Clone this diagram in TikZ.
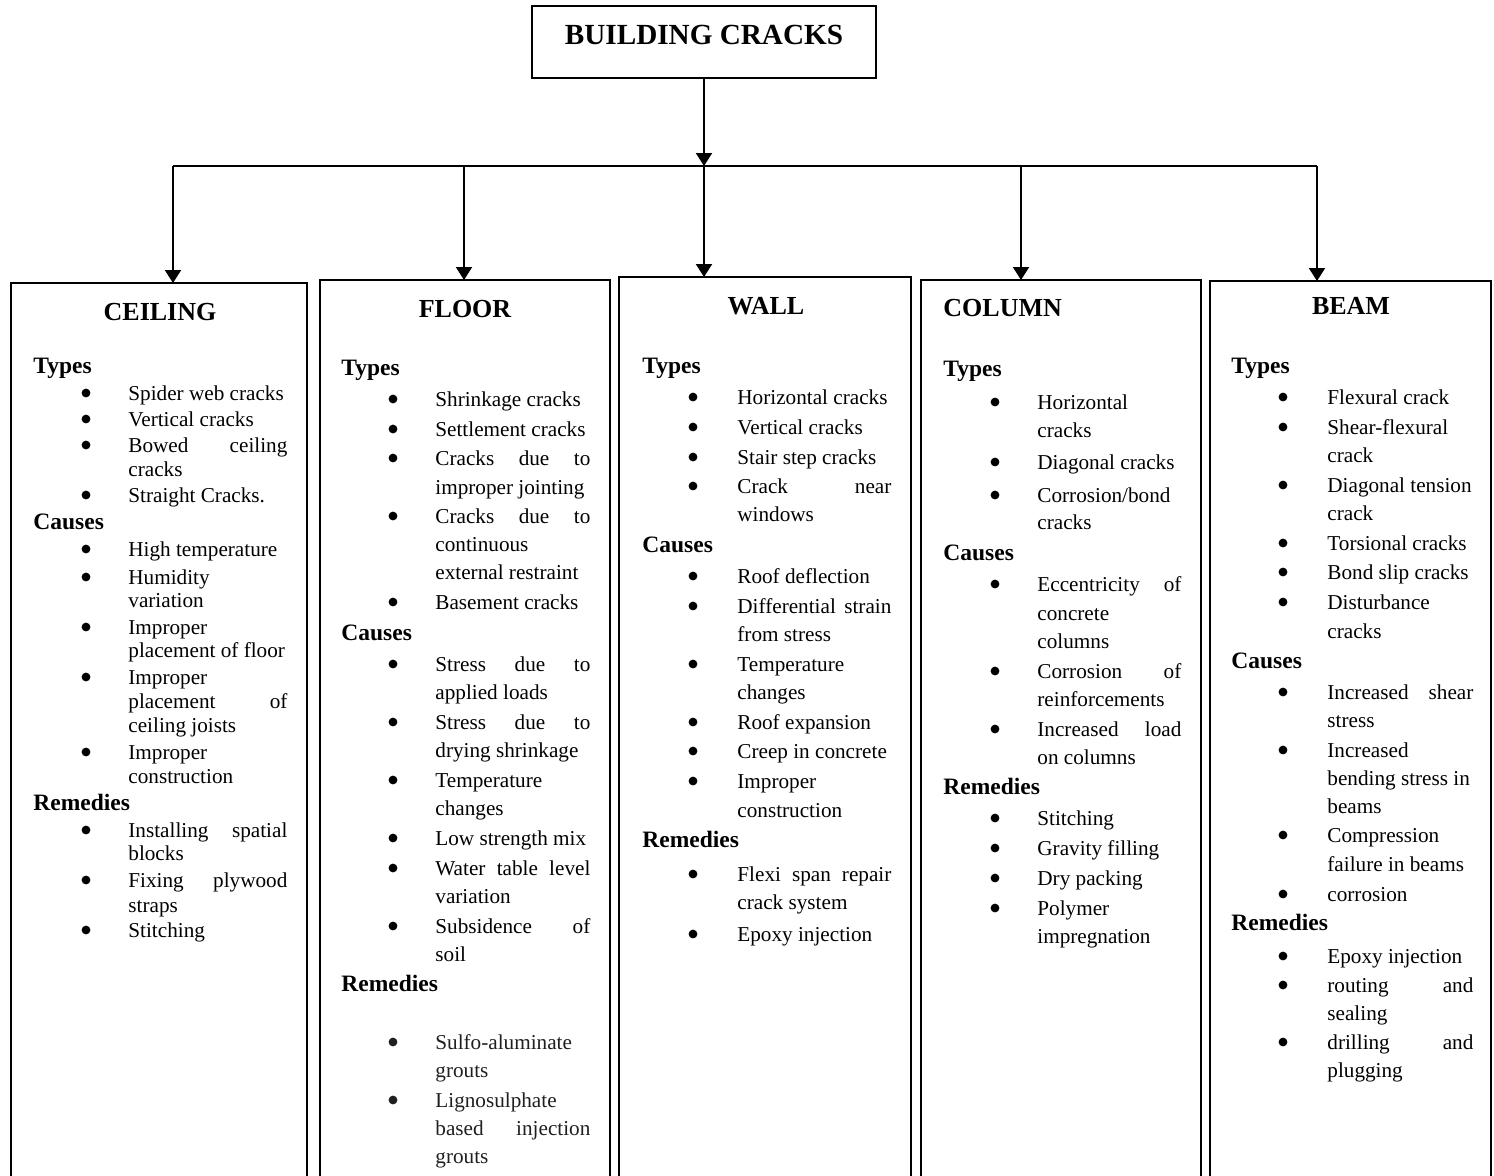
\documentclass[tikz,border=0pt]{standalone}
\usepackage{fontspec}
\setmainfont{Liberation Serif}
\usetikzlibrary{arrows.meta}
\newcounter{ln}
\newcommand\colset[4]{\def\hx{#1}\def\bx{#2}\def\tx{#3}\def\tw{#4}}
\newcommand\Hd[2]{\stepcounter{ln}\node[hd] (h\number\value{ln}) at (\hx,#1+7) {#2};}
\newcommand\Bi[2]{\stepcounter{ln}\node[bul] (b\number\value{ln}) at (\bx,#1) {};\node[txt] (t\number\value{ln}) at (\tx,#1+7) {#2};}
\newcommand\Bj[2]{\stepcounter{ln}\node[bul] (b\number\value{ln}) at (\bx,#1) {};\node[txt] (t\number\value{ln}) at (\tx,#1+7) {\makebox[\tw][s]{#2}};}
\newcommand\Ct[2]{\stepcounter{ln}\node[txt] (t\number\value{ln}) at (\tx,#1+7) {#2};}
\newcommand\Cj[2]{\stepcounter{ln}\node[txt] (t\number\value{ln}) at (\tx,#1+7) {\makebox[\tw][s]{#2}};}
\begin{document}
\begin{tikzpicture}[x=0.5pt,y=-0.5pt,
  txt/.style={anchor=base west,inner sep=0pt,font=\fontsize{10.6}{12}\selectfont},
  hd/.style={anchor=base west,inner sep=0pt,font=\fontsize{11.75}{14}\selectfont\bfseries},
  ttl/.style={anchor=base,inner sep=0pt,font=\fontsize{13}{15}\selectfont\bfseries},
  bul/.style={circle,fill,inner sep=0pt,minimum size=4.4pt},
  boxline/.style={line width=1pt},
  conn/.style={line width=1pt},
  arr/.style={line width=1pt,-{Triangle[width=8pt,length=6.5pt]}}]
\useasboundingbox (0,0) rectangle (1494,1175);
\fill[white] (0,0) rectangle (1494,1175);

% main box
\node[draw,line width=1pt,minimum width=172pt,minimum height=36pt,inner sep=0pt] (main) at (704,42) {};
\node[anchor=base,inner sep=0pt,font=\fontsize{14.6}{17}\selectfont\bfseries] (maintxt) at (704,44.5) {BUILDING CRACKS};

% connectors
\coordinate (bus) at (704,166);
\coordinate (busL) at (173,166);
\coordinate (busF) at (464,166);
\coordinate (busC) at (1021,166);
\coordinate (busR) at (1317,166);
\coordinate (ceilT) at (173,283);
\coordinate (floorT) at (464,280);
\coordinate (wallT) at (704,277);
\coordinate (colT) at (1021,280);
\coordinate (beamT) at (1317,281);
\draw[arr] (main.south) -- (bus);
\draw[conn] (busL) -- (busR);
\draw[arr] (busL) -- (ceilT);
\draw[arr] (busF) -- (floorT);
\draw[arr] (bus) -- (wallT);
\draw[arr] (busC) -- (colT);
\draw[arr] (busR) -- (beamT);

% boxes (open at bottom)
\draw[boxline] (11,1180) -- (11,283) -- (307,283) -- (307,1180);
\draw[boxline] (320,1180) -- (320,280) -- (610,280) -- (610,1180);
\draw[boxline] (619,1180) -- (619,277) -- (911,277) -- (911,1180);
\draw[boxline] (921,1180) -- (921,280) -- (1201,280) -- (1201,1180);
\draw[boxline] (1210,1180) -- (1210,281) -- (1491,281) -- (1491,1180);

% titles
\node[ttl] (tceil) at (160,320) {CEILING};
\node[ttl] (tfloor) at (465,317) {FLOOR};
\node[ttl] (twall) at (766,314) {WALL};
\node[ttl,anchor=base west] (tcol) at (943,316) {COLUMN};
\node[ttl] (tbeam) at (1351,314) {BEAM};

% CEILING
\colset{33}{86}{128}{79.5pt}
\Hd{366}{Types}
\Bi{393}{Spider web cracks}
\Bi{419}{Vertical cracks}
\Bj{445}{Bowed ceiling}
\Ct{469}{cracks}
\Bi{495}{Straight Cracks.}
\Hd{522}{Causes}
\Bi{549}{High temperature}
\Bi{577}{Humidity}
\Ct{600}{variation}
\Bi{627}{Improper}
\Ct{650}{placement of floor}
\Bi{677}{Improper}
\Cj{701}{placement of}
\Ct{725}{ceiling joists}
\Bi{752}{Improper}
\Ct{776}{construction}
\Hd{803}{Remedies}
\Bj{830}{Installing spatial}
\Ct{853}{blocks}
\Bj{880}{Fixing plywood}
\Ct{905}{straps}
\Bi{930}{Stitching}

% FLOOR
\colset{341}{393}{435}{77.5pt}
\Hd{368}{Types}
\Bi{399}{Shrinkage cracks}
\Bi{429}{Settlement cracks}
\Bj{458}{Cracks due to}
\Ct{487}{improper jointing}
\Bj{516}{Cracks due to}
\Ct{544}{continuous}
\Ct{572}{external restraint}
\Bi{602}{Basement cracks}
\Hd{633}{Causes}
\Bj{664}{Stress due to}
\Ct{692}{applied loads}
\Bj{722}{Stress due to}
\Ct{750}{drying shrinkage}
\Bi{780}{Temperature}
\Ct{808}{changes}
\Bi{838}{Low strength mix}
\Bj{868}{Water table level}
\Ct{896}{variation}
\Bj{926}{Subsidence of}
\Ct{954}{soil}
\Hd{984}{Remedies}
\begin{scope}[black!88]
\Bi{1042}{Sulfo-aluminate}
\Ct{1070}{grouts}
\Bi{1100}{Lignosulphate}
\Cj{1128}{based injection}
\Ct{1156}{grouts}
\end{scope}

% WALL
\colset{642}{693}{737}{77pt}
\Hd{366}{Types}
\Bi{397}{Horizontal cracks}
\Bi{427}{Vertical cracks}
\Bi{457}{Stair step cracks}
\Bj{486}{Crack near}
\Ct{514}{windows}
\Hd{545}{Causes}
\Bi{576}{Roof deflection}
\Bj{606}{Differential strain}
\Ct{634}{from stress}
\Bi{664}{Temperature}
\Ct{692}{changes}
\Bi{722}{Roof expansion}
\Bi{751}{Creep in concrete}
\Bi{781}{Improper}
\Ct{810}{construction}
\Hd{840}{Remedies}
\Bj{874}{Flexi span repair}
\Ct{902}{crack system}
\Bi{934}{Epoxy injection}

% COLUMN
\colset{943}{995}{1037}{72pt}
\Hd{369}{Types}
\Bi{402}{Horizontal}
\Ct{430}{cracks}
\Bi{462}{Diagonal cracks}
\Bi{495}{Corrosion/bond}
\Ct{522}{cracks}
\Hd{553}{Causes}
\Bj{584}{Eccentricity of}
\Ct{613}{concrete}
\Ct{641}{columns}
\Bj{671}{Corrosion of}
\Ct{699}{reinforcements}
\Bj{729}{Increased load}
\Ct{757}{on columns}
\Hd{787}{Remedies}
\Bi{818}{Stitching}
\Bi{848}{Gravity filling}
\Bi{878}{Dry packing}
\Bi{908}{Polymer}
\Ct{936}{impregnation}

% BEAM
\colset{1231}{1283}{1327}{73pt}
\Hd{366}{Types}
\Bi{397}{Flexural crack}
\Bi{427}{Shear-flexural}
\Ct{455}{crack}
\Bi{485}{Diagonal tension}
\Ct{513}{crack}
\Bi{543}{Torsional cracks}
\Bi{572}{Bond slip cracks}
\Bi{602}{Disturbance}
\Ct{631}{cracks}
\Hd{661}{Causes}
\Bj{692}{Increased shear}
\Ct{720}{stress}
\Bi{750}{Increased}
\Ct{778}{bending stress in}
\Ct{806}{beams}
\Bi{835}{Compression}
\Ct{864}{failure in beams}
\Bi{894}{corrosion}
\Hd{923}{Remedies}
\Bi{956}{Epoxy injection}
\Bj{985}{routing and}
\Ct{1013}{sealing}
\Bj{1042}{drilling and}
\Ct{1070}{plugging}
\end{tikzpicture}
\end{document}
